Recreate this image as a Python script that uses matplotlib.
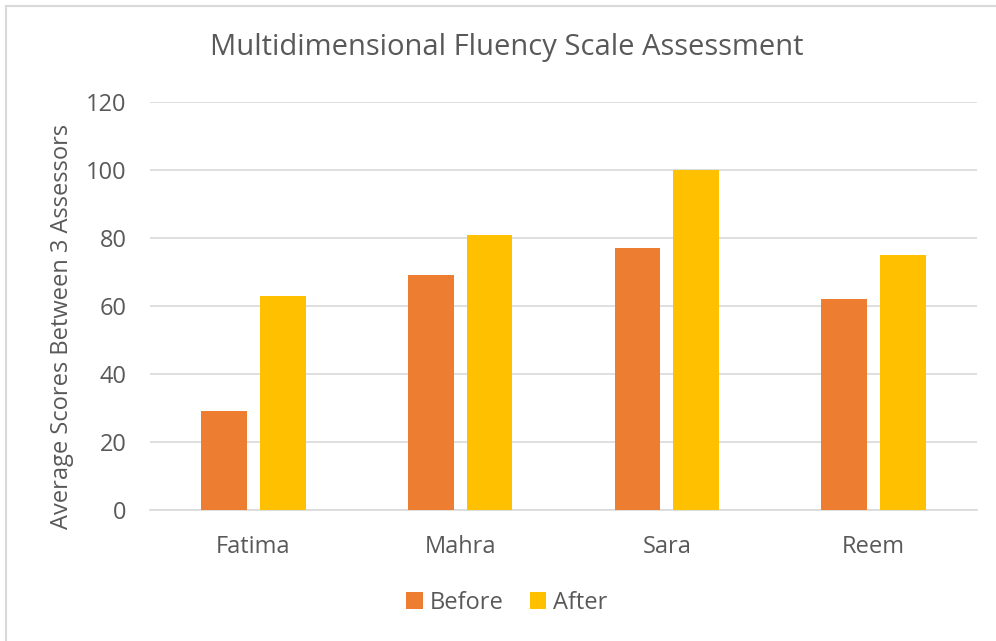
import numpy as np
from matplotlib import pyplot as plt
from matplotlib.patches import Rectangle

plt.rcParams['font.family'] = ['Open Sans', 'DejaVu Sans']

# data
students = ['Fatima', 'Mahra', 'Sara', 'Reem']
before = [29, 69, 77, 62]
after = [63, 81, 100, 75]
yticks = [0, 20, 40, 60, 80, 100, 120]

c_before = '#ED7D31'
c_after = '#FFC000'
txt = '#595959'
grid = '#D9D9D9'

fig = plt.figure(figsize=(9.96, 6.41), dpi=100)
ax = fig.add_axes([150 / 996, 1 - 510 / 641, 827 / 996, 408 / 641])

index = np.arange(len(students))
bar_width = 0.222
ax.bar(index - 0.142, before, bar_width, color=c_before, label='Before', zorder=3)
ax.bar(index + 0.142, after, bar_width, color=c_after, label='After', zorder=3)

ax.set_xlim(-0.5, len(students) - 0.5)
ax.set_ylim(0, 120)
ax.set_yticks(yticks)
ax.set_xticks(index)
ax.set_xticklabels(students)
ax.yaxis.grid(True, color=grid, linewidth=1.2, zorder=0)
for s in ['top', 'right', 'left']:
    ax.spines[s].set_visible(False)
ax.spines['bottom'].set_color(grid)
ax.spines['bottom'].set_linewidth(1.2)
ax.tick_params(axis='both', length=0, labelsize=17, labelcolor=txt)
ax.tick_params(axis='y', pad=17)
ax.tick_params(axis='x', pad=18)

ax.set_ylabel('Average Scores Between 3 Assessors', fontsize=17, color=txt)
ax.yaxis.set_label_coords(-76 / 827, 0.451)
fig.text(507 / 996, 1 - 48 / 641, 'Multidimensional Fluency Scale Assessment',
         ha='center', va='center', fontsize=21, color=txt)

fig.legend(loc='center', bbox_to_anchor=(507 / 996, 1 - 603 / 641), ncol=2, frameon=False,
           fontsize=17, labelcolor=txt, handlelength=0.7, handleheight=0.7,
           handletextpad=0.3, columnspacing=1.1)

# chart frame
fig.patches.append(Rectangle((6 / 996, -0.1), 1.2, 1 - 6 / 641 + 0.1, transform=fig.transFigure,
                             fill=False, edgecolor='#D9D9D9', linewidth=1.5))

fig.savefig('out.png', dpi=100)
